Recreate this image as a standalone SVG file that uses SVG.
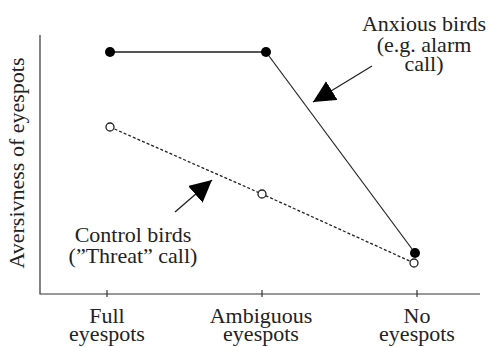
<svg xmlns="http://www.w3.org/2000/svg" width="492" height="347" viewBox="0 0 492 347">
<style>
text{font-family:'Liberation Serif','Tinos','DejaVu Serif',serif;font-size:22px;fill:#222;text-anchor:middle}
.axis{stroke:#333;stroke-width:1.2;fill:none}
.solid{stroke:#222;stroke-width:1.2;fill:none}
.dash{stroke:#222;stroke-width:1.3;stroke-dasharray:3 2;fill:none}
.filled{fill:#000}
.open{fill:#fff;stroke:#222;stroke-width:1.3}
.arrow{stroke:#222;stroke-width:1.3;fill:none;marker-end:url(#head)}
</style>
<defs>
<marker id="head" markerUnits="userSpaceOnUse" markerWidth="22" markerHeight="22" refX="20" refY="10" orient="auto" viewBox="0 0 20 20">
<path d="M0,0 L20,10 L0,20 z" fill="#000"/>
</marker>
</defs>
<rect width="492" height="347" fill="#fff"/>
<g id="axes">
<path class="axis" d="M40,35 V294 H480"/>
<path class="axis" d="M107,290 V297 M262,290 V297 M417,290 V297"/>
<text transform="translate(24,163) rotate(-90)" font-family="Liberation Serif, serif" font-size="23">Aversivness of eyespots</text>
</g>
<g id="connectors">
<path d="M110,52 H266" stroke="#555" stroke-width="2" fill="none"/>
<path class="solid" d="M266,52 L415,253"/>
<path class="dash" d="M110,127 L262,194 L414,263"/>
<line class="arrow" x1="372" y1="66" x2="313" y2="102"/>
<line class="arrow" x1="175" y1="212" x2="212" y2="180"/>
</g>
<g id="anxious-full"><circle class="filled" cx="110" cy="52" r="5"/></g>
<g id="anxious-ambiguous"><circle class="filled" cx="266" cy="52" r="5"/></g>
<g id="anxious-none"><circle class="filled" cx="415" cy="253" r="5"/></g>
<g id="control-full"><circle class="open" cx="110" cy="127" r="4"/></g>
<g id="control-ambiguous"><circle class="open" cx="262" cy="194" r="4"/></g>
<g id="control-none"><circle class="open" cx="414" cy="263" r="4"/></g>
<g id="label-anxious" font-family="Liberation Serif, serif">
<text x="424" y="31">Anxious birds</text>
<text x="424" y="52">(e.g. alarm</text>
<text x="424" y="71">call)</text>
</g>
<g id="label-control">
<text x="133" y="242">Control birds</text>
<text x="133" y="263">(”Threat” call)</text>
</g>
<g id="label-full"><text x="107" y="323">Full</text><text x="107" y="341">eyespots</text></g>
<g id="label-ambiguous"><text x="261" y="323">Ambiguous</text><text x="261" y="341">eyespots</text></g>
<g id="label-none"><text x="417" y="323">No</text><text x="417" y="341">eyespots</text></g>
</svg>
